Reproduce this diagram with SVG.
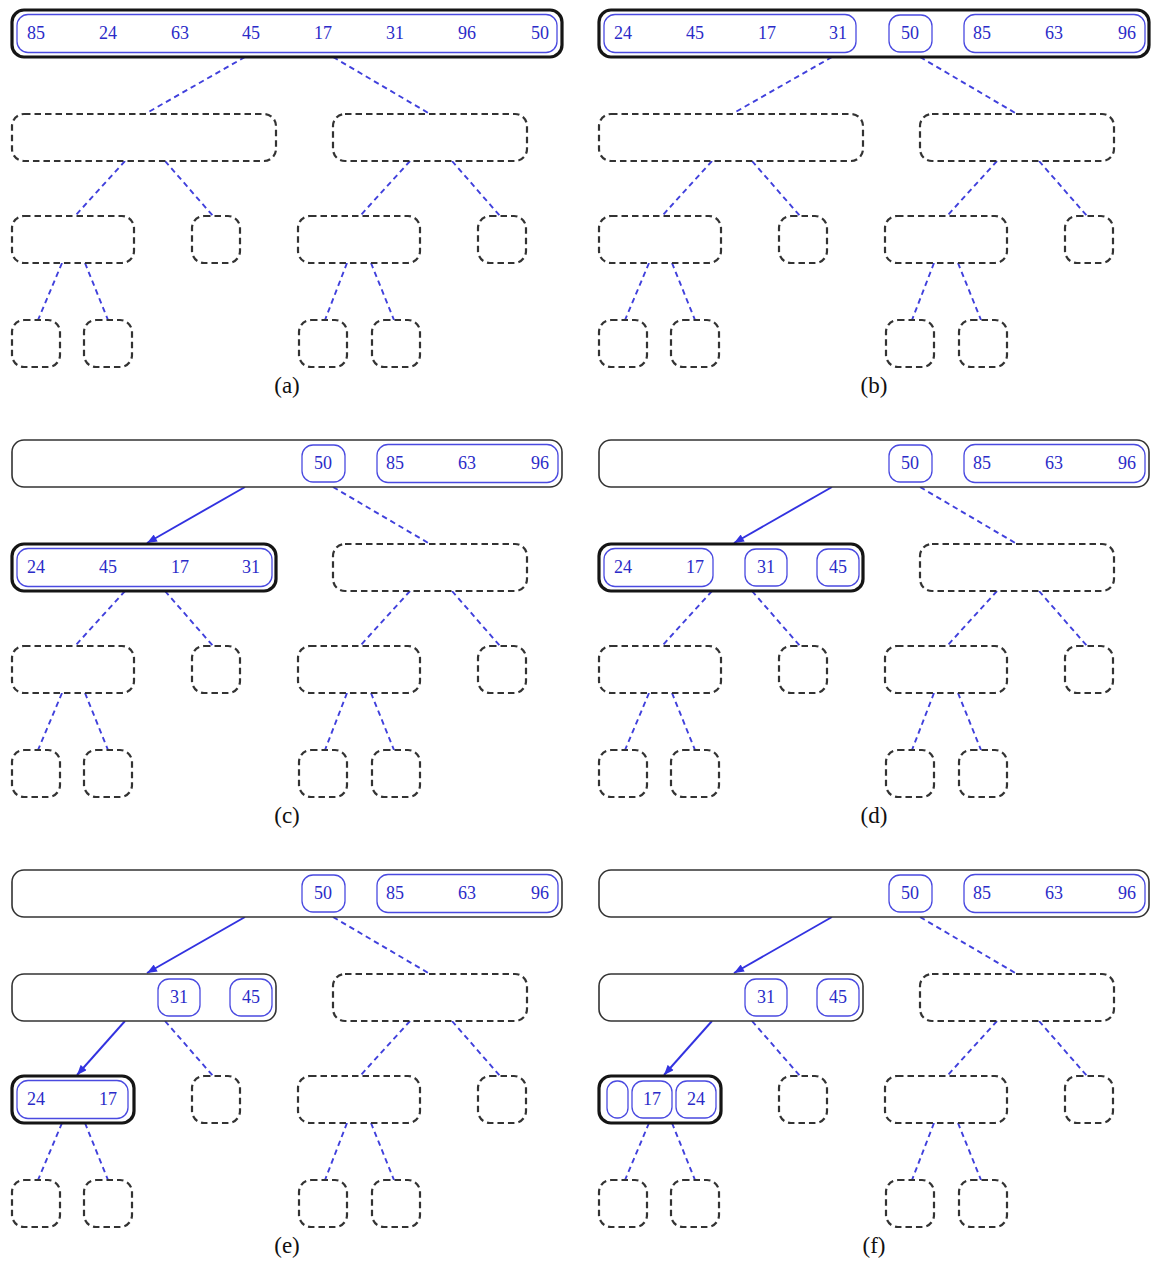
<svg xmlns="http://www.w3.org/2000/svg" width="1154" height="1261" viewBox="0 0 1154 1261">
<defs>
<marker id="ah" viewBox="0 0 10 8" refX="10" refY="4" markerWidth="11" markerHeight="8" markerUnits="userSpaceOnUse" orient="auto">
<path d="M0,0 L10,4 L0,8 Z" fill="#3232e0"/>
</marker>
</defs>
<style>
.thick{fill:#fff;stroke:#151515;stroke-width:3.2}
.thin{fill:#fff;stroke:#333;stroke-width:1.6}
.dash{fill:#fff;stroke:#333;stroke-width:2.2;stroke-dasharray:6.5 4}
.pill{fill:none;stroke:#4a4ae0;stroke-width:1.3}
.num{font-family:"Liberation Serif",serif;font-size:18px;fill:#2b2bc8;text-anchor:middle}
.lbl{font-family:"Liberation Serif",serif;font-size:23px;fill:#111;text-anchor:middle}
.dl{stroke:#4040dc;stroke-width:1.9;stroke-dasharray:5.5 4;fill:none}
.sl{stroke:#3232e0;stroke-width:1.9;fill:none;marker-end:url(#ah)}
</style>

<!-- ===== Panel (a) ===== -->
<g id="panel-a">
<g id="a-connectors">
<line class="dl" x1="245" y1="57" x2="145" y2="114"/>
<line class="dl" x1="333" y1="57" x2="430" y2="114"/>
<line class="dl" x1="125" y1="161" x2="75" y2="216"/>
<line class="dl" x1="165" y1="161" x2="213" y2="216"/>
<line class="dl" x1="410" y1="161" x2="360" y2="216"/>
<line class="dl" x1="452" y1="161" x2="500" y2="216"/>
<line class="dl" x1="62" y1="263" x2="38" y2="320"/>
<line class="dl" x1="85" y1="263" x2="108" y2="320"/>
<line class="dl" x1="347" y1="263" x2="325" y2="320"/>
<line class="dl" x1="371" y1="263" x2="394" y2="320"/>
</g>
<g id="a-root"><rect class="thick" x="12" y="10" width="550" height="47" rx="12"/>
<rect class="pill" x="17" y="14.5" width="540" height="38" rx="11"/>
<text class="num" x="36" y="38.5">85</text><text class="num" x="108" y="38.5">24</text><text class="num" x="180" y="38.5">63</text><text class="num" x="251" y="38.5">45</text><text class="num" x="323" y="38.5">17</text><text class="num" x="395" y="38.5">31</text><text class="num" x="467" y="38.5">96</text><text class="num" x="540" y="38.5">50</text></g>
<g id="a-L"><rect class="dash" x="12" y="114" width="264" height="47" rx="12"/></g>
<g id="a-R"><rect class="dash" x="333" y="114" width="194" height="47" rx="12"/></g>
<g id="a-LL"><rect class="dash" x="12" y="216" width="122" height="47" rx="12"/></g>
<g id="a-LR"><rect class="dash" x="192" y="216" width="48" height="47" rx="12"/></g>
<g id="a-RL"><rect class="dash" x="298" y="216" width="122" height="47" rx="12"/></g>
<g id="a-RR"><rect class="dash" x="478" y="216" width="48" height="47" rx="12"/></g>
<g id="a-LLL"><rect class="dash" x="12" y="320" width="48" height="47" rx="12"/></g>
<g id="a-LLR"><rect class="dash" x="84" y="320" width="48" height="47" rx="12"/></g>
<g id="a-RLL"><rect class="dash" x="299" y="320" width="48" height="47" rx="12"/></g>
<g id="a-RLR"><rect class="dash" x="372" y="320" width="48" height="47" rx="12"/></g>
<text class="lbl" x="287" y="393">(a)</text>
</g>

<!-- ===== Panel (b) ===== -->
<g id="panel-b" transform="translate(587,0)">
<g id="b-connectors">
<line class="dl" x1="245" y1="57" x2="145" y2="114"/>
<line class="dl" x1="333" y1="57" x2="430" y2="114"/>
<line class="dl" x1="125" y1="161" x2="75" y2="216"/>
<line class="dl" x1="165" y1="161" x2="213" y2="216"/>
<line class="dl" x1="410" y1="161" x2="360" y2="216"/>
<line class="dl" x1="452" y1="161" x2="500" y2="216"/>
<line class="dl" x1="62" y1="263" x2="38" y2="320"/>
<line class="dl" x1="85" y1="263" x2="108" y2="320"/>
<line class="dl" x1="347" y1="263" x2="325" y2="320"/>
<line class="dl" x1="371" y1="263" x2="394" y2="320"/>
</g>
<g id="b-root"><rect class="thick" x="12" y="10" width="550" height="47" rx="12"/>
<rect class="pill" x="17" y="14.5" width="252" height="38" rx="11"/>
<rect class="pill" x="302" y="15" width="43" height="37" rx="11"/>
<rect class="pill" x="377" y="14.5" width="181" height="38" rx="11"/>
<text class="num" x="36" y="38.5">24</text><text class="num" x="108" y="38.5">45</text><text class="num" x="180" y="38.5">17</text><text class="num" x="251" y="38.5">31</text><text class="num" x="323" y="38.5">50</text><text class="num" x="395" y="38.5">85</text><text class="num" x="467" y="38.5">63</text><text class="num" x="540" y="38.5">96</text></g>
<g id="b-L"><rect class="dash" x="12" y="114" width="264" height="47" rx="12"/></g>
<g id="b-R"><rect class="dash" x="333" y="114" width="194" height="47" rx="12"/></g>
<g id="b-LL"><rect class="dash" x="12" y="216" width="122" height="47" rx="12"/></g>
<g id="b-LR"><rect class="dash" x="192" y="216" width="48" height="47" rx="12"/></g>
<g id="b-RL"><rect class="dash" x="298" y="216" width="122" height="47" rx="12"/></g>
<g id="b-RR"><rect class="dash" x="478" y="216" width="48" height="47" rx="12"/></g>
<g id="b-LLL"><rect class="dash" x="12" y="320" width="48" height="47" rx="12"/></g>
<g id="b-LLR"><rect class="dash" x="84" y="320" width="48" height="47" rx="12"/></g>
<g id="b-RLL"><rect class="dash" x="299" y="320" width="48" height="47" rx="12"/></g>
<g id="b-RLR"><rect class="dash" x="372" y="320" width="48" height="47" rx="12"/></g>
<text class="lbl" x="287" y="393">(b)</text>
</g>

<!-- ===== Panel (c) ===== -->
<g id="panel-c" transform="translate(0,430)">
<g id="c-connectors">
<line class="sl" x1="245" y1="57" x2="147" y2="113"/>
<line class="dl" x1="333" y1="57" x2="430" y2="114"/>
<line class="dl" x1="125" y1="161" x2="75" y2="216"/>
<line class="dl" x1="165" y1="161" x2="213" y2="216"/>
<line class="dl" x1="410" y1="161" x2="360" y2="216"/>
<line class="dl" x1="452" y1="161" x2="500" y2="216"/>
<line class="dl" x1="62" y1="263" x2="38" y2="320"/>
<line class="dl" x1="85" y1="263" x2="108" y2="320"/>
<line class="dl" x1="347" y1="263" x2="325" y2="320"/>
<line class="dl" x1="371" y1="263" x2="394" y2="320"/>
</g>
<g id="c-root"><rect class="thin" x="12" y="10" width="550" height="47" rx="12"/>
<rect class="pill" x="302" y="15" width="43" height="37" rx="11"/>
<rect class="pill" x="377" y="14.5" width="181" height="38" rx="11"/>
<text class="num" x="323" y="38.5">50</text><text class="num" x="395" y="38.5">85</text><text class="num" x="467" y="38.5">63</text><text class="num" x="540" y="38.5">96</text></g>
<g id="c-L"><rect class="thick" x="12" y="114" width="264" height="47" rx="12"/>
<rect class="pill" x="17" y="118.5" width="255" height="38" rx="11"/>
<text class="num" x="36" y="142.5">24</text><text class="num" x="108" y="142.5">45</text><text class="num" x="180" y="142.5">17</text><text class="num" x="251" y="142.5">31</text></g>
<g id="c-R"><rect class="dash" x="333" y="114" width="194" height="47" rx="12"/></g>
<g id="c-LL"><rect class="dash" x="12" y="216" width="122" height="47" rx="12"/></g>
<g id="c-LR"><rect class="dash" x="192" y="216" width="48" height="47" rx="12"/></g>
<g id="c-RL"><rect class="dash" x="298" y="216" width="122" height="47" rx="12"/></g>
<g id="c-RR"><rect class="dash" x="478" y="216" width="48" height="47" rx="12"/></g>
<g id="c-LLL"><rect class="dash" x="12" y="320" width="48" height="47" rx="12"/></g>
<g id="c-LLR"><rect class="dash" x="84" y="320" width="48" height="47" rx="12"/></g>
<g id="c-RLL"><rect class="dash" x="299" y="320" width="48" height="47" rx="12"/></g>
<g id="c-RLR"><rect class="dash" x="372" y="320" width="48" height="47" rx="12"/></g>
<text class="lbl" x="287" y="393">(c)</text>
</g>

<!-- ===== Panel (d) ===== -->
<g id="panel-d" transform="translate(587,430)">
<g id="d-connectors">
<line class="sl" x1="245" y1="57" x2="147" y2="113"/>
<line class="dl" x1="333" y1="57" x2="430" y2="114"/>
<line class="dl" x1="125" y1="161" x2="75" y2="216"/>
<line class="dl" x1="165" y1="161" x2="213" y2="216"/>
<line class="dl" x1="410" y1="161" x2="360" y2="216"/>
<line class="dl" x1="452" y1="161" x2="500" y2="216"/>
<line class="dl" x1="62" y1="263" x2="38" y2="320"/>
<line class="dl" x1="85" y1="263" x2="108" y2="320"/>
<line class="dl" x1="347" y1="263" x2="325" y2="320"/>
<line class="dl" x1="371" y1="263" x2="394" y2="320"/>
</g>
<g id="d-root"><rect class="thin" x="12" y="10" width="550" height="47" rx="12"/>
<rect class="pill" x="302" y="15" width="43" height="37" rx="11"/>
<rect class="pill" x="377" y="14.5" width="181" height="38" rx="11"/>
<text class="num" x="323" y="38.5">50</text><text class="num" x="395" y="38.5">85</text><text class="num" x="467" y="38.5">63</text><text class="num" x="540" y="38.5">96</text></g>
<g id="d-L"><rect class="thick" x="12" y="114" width="264" height="47" rx="12"/>
<rect class="pill" x="17" y="118.5" width="109" height="38" rx="11"/>
<rect class="pill" x="158" y="119" width="42" height="37" rx="11"/>
<rect class="pill" x="230" y="119" width="42" height="37" rx="11"/>
<text class="num" x="36" y="142.5">24</text><text class="num" x="108" y="142.5">17</text><text class="num" x="179" y="142.5">31</text><text class="num" x="251" y="142.5">45</text></g>
<g id="d-R"><rect class="dash" x="333" y="114" width="194" height="47" rx="12"/></g>
<g id="d-LL"><rect class="dash" x="12" y="216" width="122" height="47" rx="12"/></g>
<g id="d-LR"><rect class="dash" x="192" y="216" width="48" height="47" rx="12"/></g>
<g id="d-RL"><rect class="dash" x="298" y="216" width="122" height="47" rx="12"/></g>
<g id="d-RR"><rect class="dash" x="478" y="216" width="48" height="47" rx="12"/></g>
<g id="d-LLL"><rect class="dash" x="12" y="320" width="48" height="47" rx="12"/></g>
<g id="d-LLR"><rect class="dash" x="84" y="320" width="48" height="47" rx="12"/></g>
<g id="d-RLL"><rect class="dash" x="299" y="320" width="48" height="47" rx="12"/></g>
<g id="d-RLR"><rect class="dash" x="372" y="320" width="48" height="47" rx="12"/></g>
<text class="lbl" x="287" y="393">(d)</text>
</g>

<!-- ===== Panel (e) ===== -->
<g id="panel-e" transform="translate(0,860)">
<g id="e-connectors">
<line class="sl" x1="245" y1="57" x2="147" y2="113"/>
<line class="dl" x1="333" y1="57" x2="430" y2="114"/>
<line class="sl" x1="125" y1="161" x2="77" y2="215"/>
<line class="dl" x1="165" y1="161" x2="213" y2="216"/>
<line class="dl" x1="410" y1="161" x2="360" y2="216"/>
<line class="dl" x1="452" y1="161" x2="500" y2="216"/>
<line class="dl" x1="62" y1="263" x2="38" y2="320"/>
<line class="dl" x1="85" y1="263" x2="108" y2="320"/>
<line class="dl" x1="347" y1="263" x2="325" y2="320"/>
<line class="dl" x1="371" y1="263" x2="394" y2="320"/>
</g>
<g id="e-root"><rect class="thin" x="12" y="10" width="550" height="47" rx="12"/>
<rect class="pill" x="302" y="15" width="43" height="37" rx="11"/>
<rect class="pill" x="377" y="14.5" width="181" height="38" rx="11"/>
<text class="num" x="323" y="38.5">50</text><text class="num" x="395" y="38.5">85</text><text class="num" x="467" y="38.5">63</text><text class="num" x="540" y="38.5">96</text></g>
<g id="e-L"><rect class="thin" x="12" y="114" width="264" height="47" rx="12"/>
<rect class="pill" x="158" y="119" width="42" height="37" rx="11"/>
<rect class="pill" x="230" y="119" width="42" height="37" rx="11"/>
<text class="num" x="179" y="142.5">31</text><text class="num" x="251" y="142.5">45</text></g>
<g id="e-R"><rect class="dash" x="333" y="114" width="194" height="47" rx="12"/></g>
<g id="e-LL"><rect class="thick" x="12" y="216" width="122" height="47" rx="12"/>
<rect class="pill" x="17" y="220.5" width="111" height="38" rx="11"/>
<text class="num" x="36" y="244.5">24</text><text class="num" x="108" y="244.5">17</text></g>
<g id="e-LR"><rect class="dash" x="192" y="216" width="48" height="47" rx="12"/></g>
<g id="e-RL"><rect class="dash" x="298" y="216" width="122" height="47" rx="12"/></g>
<g id="e-RR"><rect class="dash" x="478" y="216" width="48" height="47" rx="12"/></g>
<g id="e-LLL"><rect class="dash" x="12" y="320" width="48" height="47" rx="12"/></g>
<g id="e-LLR"><rect class="dash" x="84" y="320" width="48" height="47" rx="12"/></g>
<g id="e-RLL"><rect class="dash" x="299" y="320" width="48" height="47" rx="12"/></g>
<g id="e-RLR"><rect class="dash" x="372" y="320" width="48" height="47" rx="12"/></g>
<text class="lbl" x="287" y="393">(e)</text>
</g>

<!-- ===== Panel (f) ===== -->
<g id="panel-f" transform="translate(587,860)">
<g id="f-connectors">
<line class="sl" x1="245" y1="57" x2="147" y2="113"/>
<line class="dl" x1="333" y1="57" x2="430" y2="114"/>
<line class="sl" x1="125" y1="161" x2="77" y2="215"/>
<line class="dl" x1="165" y1="161" x2="213" y2="216"/>
<line class="dl" x1="410" y1="161" x2="360" y2="216"/>
<line class="dl" x1="452" y1="161" x2="500" y2="216"/>
<line class="dl" x1="62" y1="263" x2="38" y2="320"/>
<line class="dl" x1="85" y1="263" x2="108" y2="320"/>
<line class="dl" x1="347" y1="263" x2="325" y2="320"/>
<line class="dl" x1="371" y1="263" x2="394" y2="320"/>
</g>
<g id="f-root"><rect class="thin" x="12" y="10" width="550" height="47" rx="12"/>
<rect class="pill" x="302" y="15" width="43" height="37" rx="11"/>
<rect class="pill" x="377" y="14.5" width="181" height="38" rx="11"/>
<text class="num" x="323" y="38.5">50</text><text class="num" x="395" y="38.5">85</text><text class="num" x="467" y="38.5">63</text><text class="num" x="540" y="38.5">96</text></g>
<g id="f-L"><rect class="thin" x="12" y="114" width="264" height="47" rx="12"/>
<rect class="pill" x="158" y="119" width="42" height="37" rx="11"/>
<rect class="pill" x="230" y="119" width="42" height="37" rx="11"/>
<text class="num" x="179" y="142.5">31</text><text class="num" x="251" y="142.5">45</text></g>
<g id="f-R"><rect class="dash" x="333" y="114" width="194" height="47" rx="12"/></g>
<g id="f-LL"><rect class="thick" x="12" y="216" width="122" height="47" rx="12"/>
<rect class="pill" x="20" y="221" width="21" height="37" rx="10"/>
<rect class="pill" x="45" y="221" width="40" height="37" rx="11"/>
<rect class="pill" x="89" y="221" width="40" height="37" rx="11"/>
<text class="num" x="65" y="244.5">17</text><text class="num" x="109" y="244.5">24</text></g>
<g id="f-LR"><rect class="dash" x="192" y="216" width="48" height="47" rx="12"/></g>
<g id="f-RL"><rect class="dash" x="298" y="216" width="122" height="47" rx="12"/></g>
<g id="f-RR"><rect class="dash" x="478" y="216" width="48" height="47" rx="12"/></g>
<g id="f-LLL"><rect class="dash" x="12" y="320" width="48" height="47" rx="12"/></g>
<g id="f-LLR"><rect class="dash" x="84" y="320" width="48" height="47" rx="12"/></g>
<g id="f-RLL"><rect class="dash" x="299" y="320" width="48" height="47" rx="12"/></g>
<g id="f-RLR"><rect class="dash" x="372" y="320" width="48" height="47" rx="12"/></g>
<text class="lbl" x="287" y="393">(f)</text>
</g>
</svg>
